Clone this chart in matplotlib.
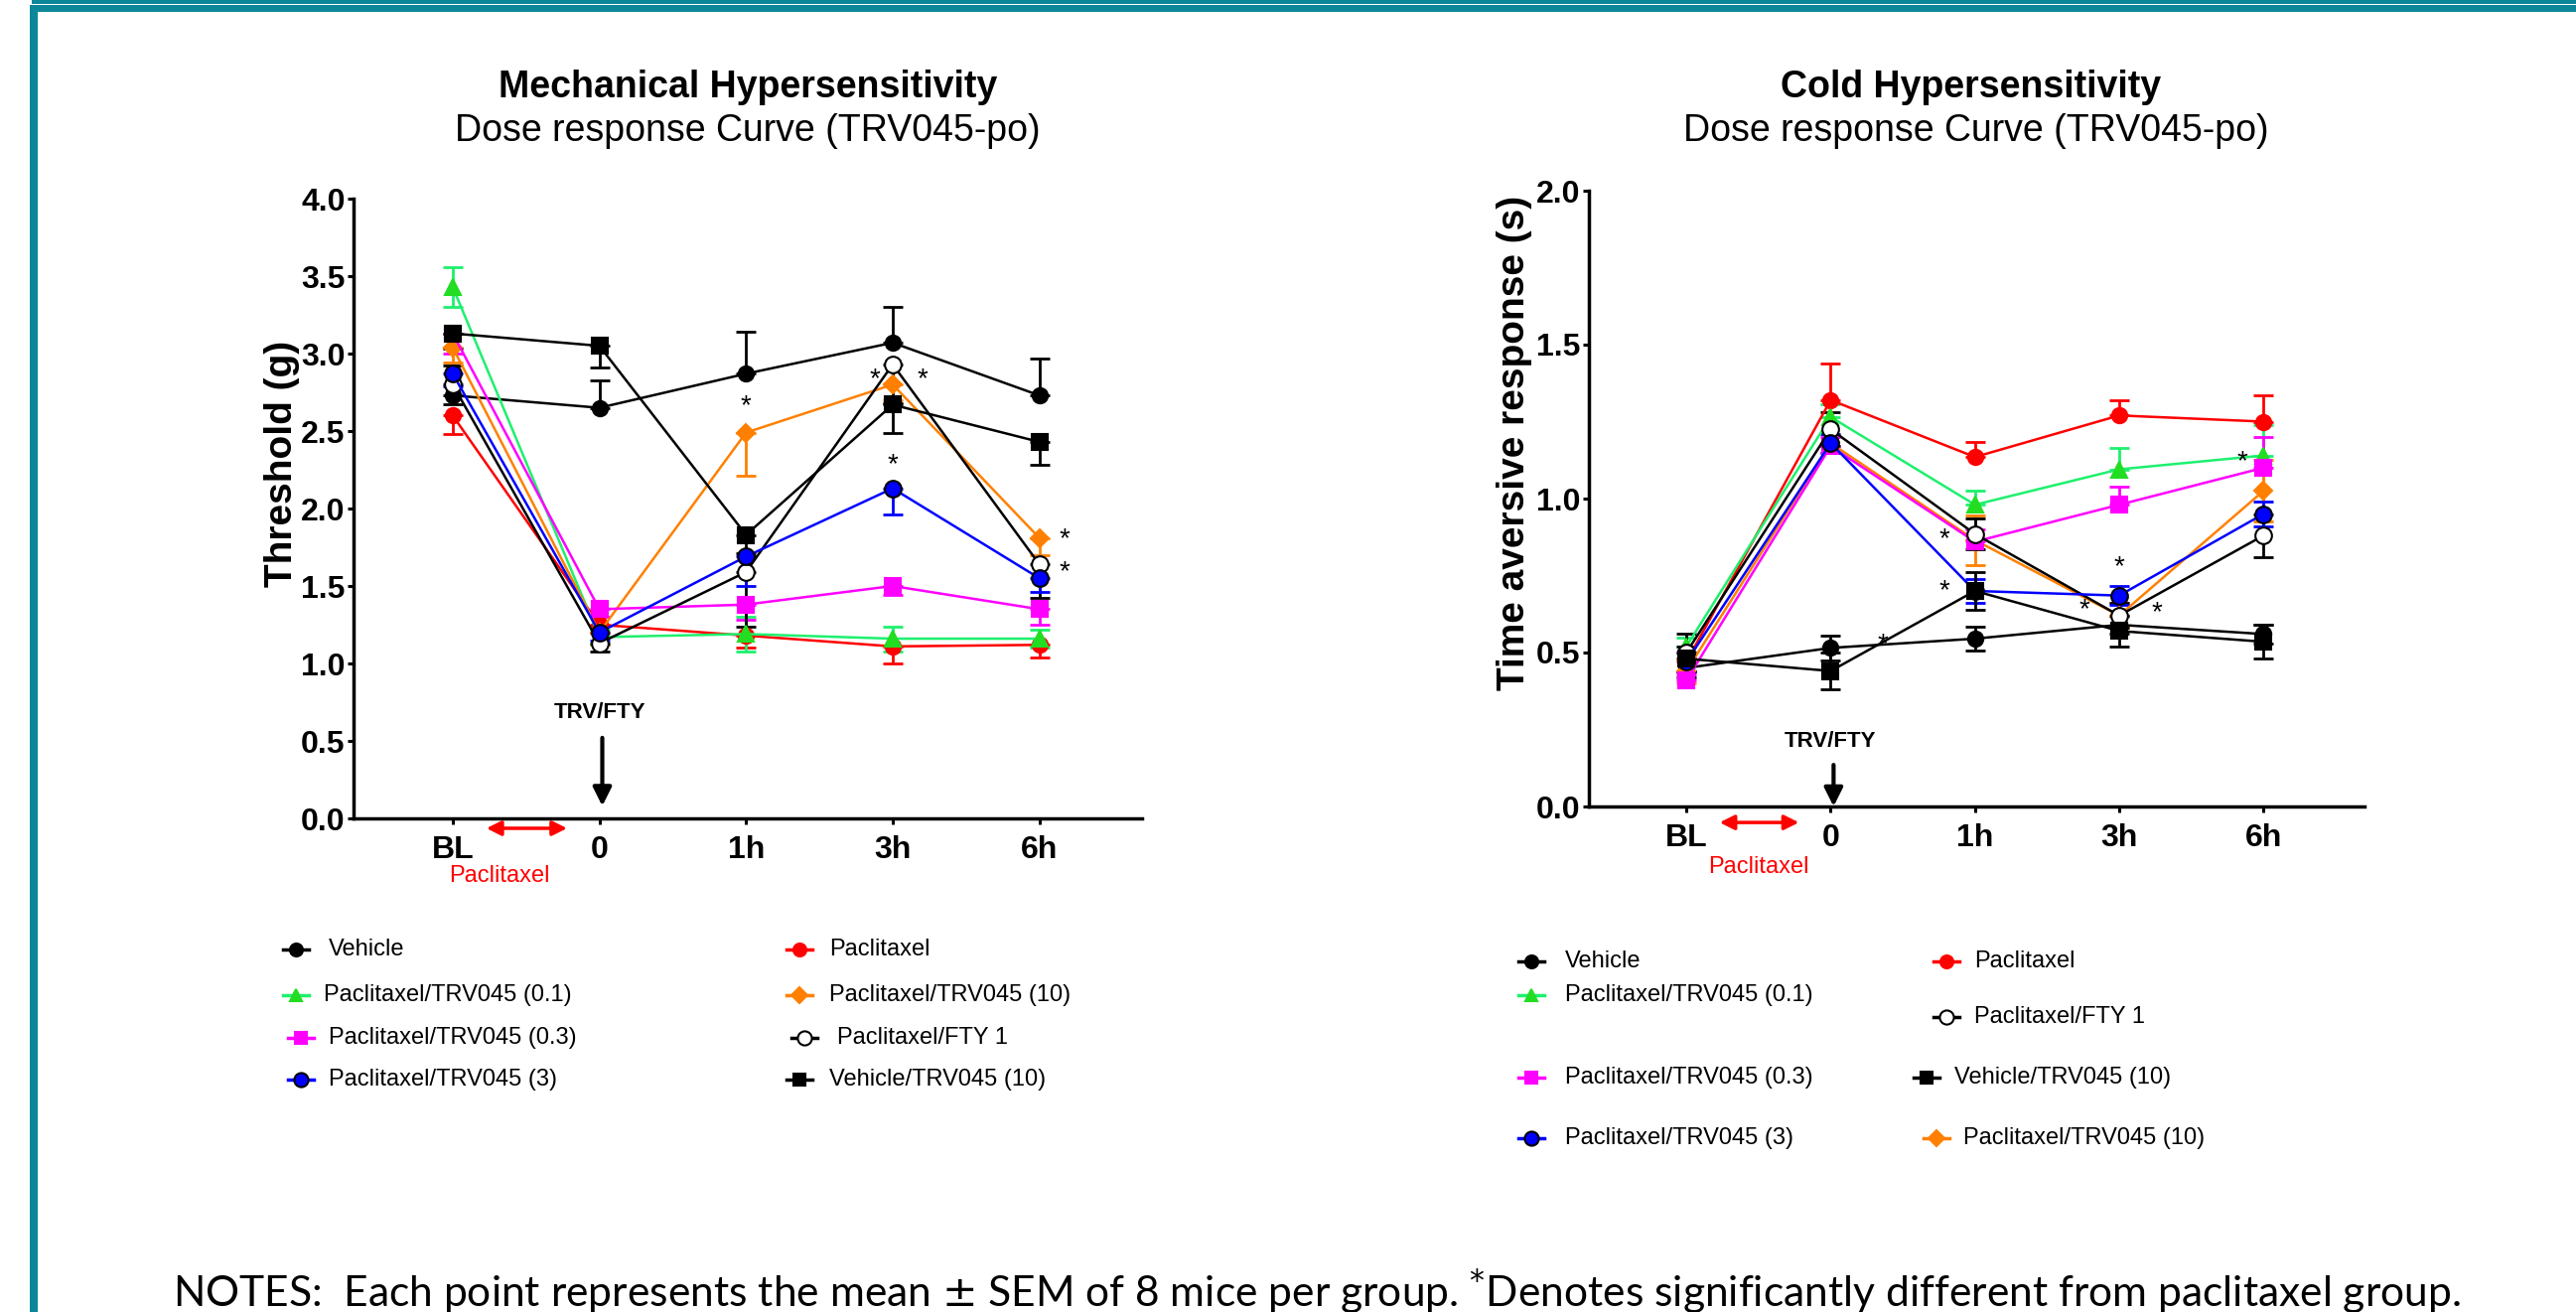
import numpy as np
import matplotlib.pyplot as plt
from matplotlib import font_manager
from matplotlib.lines import Line2D
from matplotlib.patches import Rectangle

W, H = 2594, 1321

times = ['BL', '0', '1h', '3h', '6h']
groups = ['Vehicle', 'Paclitaxel', 'Paclitaxel/TRV045 (0.1)', 'Paclitaxel/TRV045 (10)',
          'Paclitaxel/TRV045 (0.3)', 'Paclitaxel/FTY 1', 'Paclitaxel/TRV045 (3)', 'Vehicle/TRV045 (10)']

# mechanical threshold (g), mean and SEM per group
mech_vehicle = [2.73, 2.65, 2.87, 3.07, 2.73]
mech_pac = [2.60, 1.25, 1.18, 1.11, 1.12]
mech_trv01 = [3.43, 1.17, 1.19, 1.16, 1.16]
mech_trv10 = [3.04, 1.20, 2.49, 2.80, 1.81]
mech_trv03 = [3.13, 1.35, 1.38, 1.50, 1.35]
mech_fty = [2.80, 1.13, 1.59, 2.93, 1.64]
mech_trv3 = [2.87, 1.20, 1.69, 2.13, 1.55]
mech_veh_trv = [3.13, 3.05, 1.83, 2.67, 2.43]

mech_vehicle_err = [0.19, 0.18, 0.27, 0.23, 0.24]
mech_pac_err = [0.12, 0.05, 0.08, 0.11, 0.08]
mech_trv01_err = [0.13, 0.05, 0.11, 0.08, 0.06]
mech_trv10_err = [0.10, 0.08, 0.28, 0.10, 0.11]
mech_trv03_err = [0.13, 0.05, 0.10, 0.06, 0.10]
mech_fty_err = [0.13, 0.05, 0.35, 0.25, 0.22]
mech_trv3_err = [0.08, 0.05, 0.19, 0.17, 0.09]
mech_veh_trv_err = [0.10, 0.14, 0.12, 0.18, 0.15]

# cold aversive response time (s)
cold_vehicle = [0.45, 0.515, 0.545, 0.59, 0.56]
cold_pac = [0.47, 1.32, 1.135, 1.27, 1.25]
cold_trv01 = [0.52, 1.265, 0.98, 1.095, 1.14]
cold_trv10 = [0.44, 1.18, 0.865, 0.62, 1.025]
cold_trv03 = [0.41, 1.17, 0.86, 0.98, 1.10]
cold_fty = [0.50, 1.225, 0.885, 0.62, 0.88]
cold_trv3 = [0.47, 1.18, 0.70, 0.685, 0.95]
cold_veh_trv = [0.48, 0.44, 0.70, 0.57, 0.535]

cold_vehicle_err = [0.03, 0.04, 0.04, 0.03, 0.03]
cold_pac_err = [0.03, 0.12, 0.05, 0.05, 0.085]
cold_trv01_err = [0.03, 0.04, 0.045, 0.07, 0.10]
cold_trv10_err = [0.04, 0.03, 0.08, 0.04, 0.10]
cold_trv03_err = [0.02, 0.03, 0.04, 0.06, 0.10]
cold_fty_err = [0.06, 0.055, 0.05, 0.04, 0.07]
cold_trv3_err = [0.03, 0.03, 0.04, 0.03, 0.04]
cold_veh_trv_err = [0.04, 0.06, 0.06, 0.05, 0.055]

# significance markers (x index, y value)
mech_stars = [(2.0, 2.66), (2.88, 2.83), (3.2, 2.83), (3.0, 2.28), (4.17, 1.80), (4.17, 1.59)]
cold_stars = [(1.79, 0.868), (1.79, 0.70), (3.0, 0.776), (2.76, 0.637), (3.26, 0.629),
              (3.85, 1.118), (1.36, 0.524)]

# colour, marker, face, edge, marker size
styles = {
    'Vehicle': ('#000000', 'o', '#000000', '#000000', 11),
    'Paclitaxel': ('#ff0000', 'o', '#ff0000', '#ff0000', 11),
    'Paclitaxel/TRV045 (0.1)': ('#1ef06e', '^', '#22dd22', '#22dd22', 11),
    'Paclitaxel/TRV045 (10)': ('#ff8000', 'D', '#ff8000', '#ff8000', 9),
    'Paclitaxel/TRV045 (0.3)': ('#ff00ff', 's', '#ff00ff', '#ff00ff', 11),
    'Paclitaxel/FTY 1': ('#000000', 'o', '#ffffff', '#000000', 12),
    'Paclitaxel/TRV045 (3)': ('#0000ff', 'o', '#0000ff', '#000000', 12),
    'Vehicle/TRV045 (10)': ('#000000', 's', '#000000', '#000000', 11),
}

mech = {
    'Vehicle': (mech_vehicle, mech_vehicle_err, 'up'),
    'Paclitaxel': (mech_pac, mech_pac_err, 'down'),
    'Paclitaxel/TRV045 (0.1)': (mech_trv01, mech_trv01_err, 'both'),
    'Paclitaxel/TRV045 (10)': (mech_trv10, mech_trv10_err, 'down'),
    'Paclitaxel/TRV045 (0.3)': (mech_trv03, mech_trv03_err, 'down'),
    'Paclitaxel/FTY 1': (mech_fty, mech_fty_err, 'down'),
    'Paclitaxel/TRV045 (3)': (mech_trv3, mech_trv3_err, 'down'),
    'Vehicle/TRV045 (10)': (mech_veh_trv, mech_veh_trv_err, 'down'),
}
cold = {
    'Vehicle': (cold_vehicle, cold_vehicle_err, 'both'),
    'Paclitaxel': (cold_pac, cold_pac_err, 'up'),
    'Paclitaxel/TRV045 (0.1)': (cold_trv01, cold_trv01_err, 'up'),
    'Paclitaxel/TRV045 (10)': (cold_trv10, cold_trv10_err, 'both'),
    'Paclitaxel/TRV045 (0.3)': (cold_trv03, cold_trv03_err, 'up'),
    'Paclitaxel/FTY 1': (cold_fty, cold_fty_err, 'both'),
    'Paclitaxel/TRV045 (3)': (cold_trv3, cold_trv3_err, 'both'),
    'Vehicle/TRV045 (10)': (cold_veh_trv, cold_veh_trv_err, 'both'),
}

plt.rcParams['font.family'] = ['Liberation Sans', 'DejaVu Sans']
try:
    font_manager.findfont('Liberation Sans Narrow', fallback_to_default=False)
    leg_font, leg_size = 'Liberation Sans Narrow', 20
except ValueError:
    leg_font, leg_size = 'Liberation Sans', 17

fx = lambda px: px / W
fy = lambda py: 1 - py / H

fig = plt.figure(figsize=(W / 100, H / 100), dpi=100)


def draw_panel(rect, data, ylim, yticks, stars, ann):
    ax = fig.add_axes(rect)
    x = np.arange(len(times))
    for name in groups:
        y, e, side = data[name]
        col, mk, fc, ec, ms = styles[name]
        e = np.array(e)
        lo = e if side in ('down', 'both') else np.zeros_like(e)
        hi = e if side in ('up', 'both') else np.zeros_like(e)
        ax.errorbar(x, y, yerr=[lo, hi], fmt='none', ecolor=col, elinewidth=2,
                    capsize=7, capthick=2, zorder=2, clip_on=False)
        ax.plot(x, y, color=col, lw=1.8, marker=mk, markerfacecolor=fc,
                markeredgecolor=ec, markeredgewidth=1.5, markersize=ms, zorder=3, clip_on=False)
    for sx, sy in stars:
        ax.text(sx, sy, '*', fontsize=20, ha='center', va='center', zorder=4)
    ax.set_xlim(-0.676, 4.7)
    ax.set_ylim(*ylim)
    ax.set_xticks(x)
    ax.set_xticklabels(times)
    ax.set_yticks(yticks)
    ax.set_yticklabels(['%.1f' % t for t in yticks])
    for lab in ax.get_xticklabels() + ax.get_yticklabels():
        lab.set_fontweight('bold')
        lab.set_fontsize(23)
    ax.tick_params(width=2.2, length=4, pad=2)
    ax.tick_params(axis='x', pad=8)
    for s in ['top', 'right']:
        ax.spines[s].set_visible(False)
    for s in ['left', 'bottom']:
        ax.spines[s].set_linewidth(2.5)
    # TRV/FTY dosing arrow at time 0
    ty, a0, a1 = ann['trv']
    ax.text(1.0, ty, 'TRV/FTY', fontsize=16, fontweight='bold', ha='center', va='center')
    ax.annotate('', xy=(1.02, a1), xytext=(1.02, a0),
                arrowprops=dict(arrowstyle='-|>', color='black', lw=3, mutation_scale=28,
                                shrinkA=0, shrinkB=0))
    # paclitaxel period arrow
    py, lx, ly = ann['pac']
    ax.annotate('', xy=(0.78, py), xytext=(0.23, py), annotation_clip=False,
                arrowprops=dict(arrowstyle='<|-|>', color='#ff0000', lw=2.5, mutation_scale=22,
                                shrinkA=0, shrinkB=0))
    ax.text(lx, ly, 'Paclitaxel', color='#ff0000', fontsize=17, ha='center', va='center',
            clip_on=False)
    return ax


axL = draw_panel([fx(356), fy(824), fx(1150) - fx(356), fy(200) - fy(824)], mech, (0, 4.0),
                 np.arange(0, 4.01, 0.5), mech_stars,
                 {'trv': (0.68, 0.52, 0.08), 'pac': (-0.064, 0.32, -0.37)})
axR = draw_panel([fx(1600), fy(812), fx(2381) - fx(1600), fy(192) - fy(812)], cold, (0, 2.0),
                 np.arange(0, 2.01, 0.5), cold_stars,
                 {'trv': (0.21, 0.135, 0.0), 'pac': (-0.052, 0.5, -0.197)})

# titles and axis labels
fig.text(fx(753), fy(88), 'Mechanical Hypersensitivity', fontsize=27, fontweight='bold',
         ha='center', va='center')
fig.text(fx(753), fy(132), 'Dose response Curve (TRV045-po)', fontsize=27, ha='center', va='center')
fig.text(fx(1985), fy(88), 'Cold Hypersensitivity', fontsize=27, fontweight='bold',
         ha='center', va='center')
fig.text(fx(1990), fy(132), 'Dose response Curve (TRV045-po)', fontsize=27, ha='center', va='center')
fig.text(fx(284), fy(467), 'Threshold (g)', fontsize=28, fontweight='bold', rotation=90,
         ha='center', va='center')
fig.text(fx(1525), fy(446), 'Time aversive response (s)', fontsize=28, fontweight='bold',
         rotation=90, ha='center', va='center')

# legends (marker x, text x, y in pixels)
leg_left = [
    ('Vehicle', 298, 331, 956), ('Paclitaxel', 805, 835, 956),
    ('Paclitaxel/TRV045 (0.1)', 298, 326, 1002), ('Paclitaxel/TRV045 (10)', 805, 835, 1002),
    ('Paclitaxel/TRV045 (0.3)', 303, 331, 1045), ('Paclitaxel/FTY 1', 810, 843, 1045),
    ('Paclitaxel/TRV045 (3)', 303, 331, 1087), ('Vehicle/TRV045 (10)', 805, 835, 1087),
]
leg_right = [
    ('Vehicle', 1542, 1576, 968), ('Paclitaxel', 1960, 1988, 968),
    ('Paclitaxel/TRV045 (0.1)', 1542, 1576, 1002), ('Paclitaxel/FTY 1', 1960, 1988, 1024),
    ('Paclitaxel/TRV045 (0.3)', 1542, 1576, 1085), ('Vehicle/TRV045 (10)', 1940, 1968, 1085),
    ('Paclitaxel/TRV045 (3)', 1542, 1576, 1146), ('Paclitaxel/TRV045 (10)', 1950, 1977, 1146),
]
for name, mx, tx, ty in leg_left + leg_right:
    col, mk, fc, ec, ms = styles[name]
    fig.add_artist(Line2D([fx(mx - 13), fx(mx + 13)], [fy(ty), fy(ty)], color=col, lw=2.5,
                          transform=fig.transFigure))
    fig.add_artist(Line2D([fx(mx)], [fy(ty)], marker=mk, markerfacecolor=fc, markeredgecolor=ec,
                          markersize=ms * 0.85, markeredgewidth=1.5, transform=fig.transFigure))
    fig.text(fx(tx), fy(ty), name, fontsize=leg_size, family=leg_font, ha='left', va='center')

# notes line, fitted to the reference width
note = 'NOTES:  Each point represents the mean $\\pm$ SEM of 8 mice per group. $^{*}$Denotes significantly different from paclitaxel group.'
nt = fig.text(fx(174), fy(1300), note, fontsize=26, family=['Lato', 'DejaVu Sans'],
              ha='left', va='center')
fig.canvas.draw()
wpx = nt.get_window_extent().width
nt.set_fontsize(26 * 2307 / wpx)

# teal frame
teal = '#0b8799'
for x0, y0, x1, y1 in [(32, 0, W, 4), (30, 5, W, 12), (30, 5, 38, H)]:
    fig.add_artist(Rectangle((fx(x0), fy(y1)), fx(x1) - fx(x0), fy(y0) - fy(y1),
                             facecolor=teal, edgecolor='none', transform=fig.transFigure))

fig.savefig('out.png', dpi=100)
